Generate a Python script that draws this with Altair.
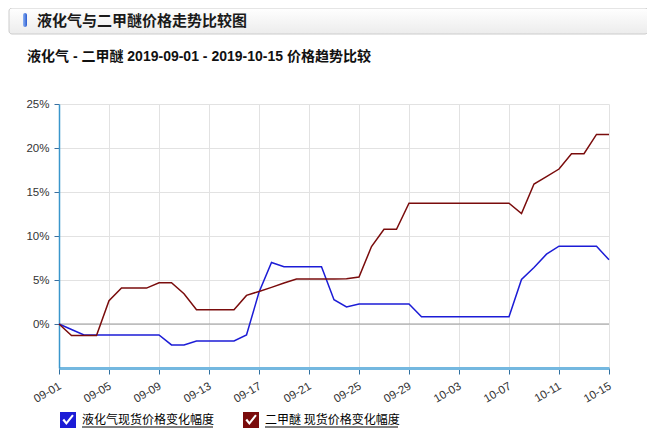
import altair as alt
import pandas as pd

# ---------------- data ----------------
dates = pd.date_range("2019-09-01", "2019-10-15").strftime("%Y-%m-%d").tolist()
series_names = ["液化气现货价格变化幅度", "二甲醚 现货价格变化幅度"]
lpg_pct = [0, -0.62, -1.25, -1.25, -1.25, -1.25, -1.25, -1.25, -1.25, -2.38,
           -2.38, -1.93, -1.93, -1.93, -1.93, -1.25, 3.6, 6.99, 6.5, 6.5,
           6.5, 6.5, 2.76, 1.93, 2.27, 2.27, 2.27, 2.27, 2.27, 0.83,
           0.83, 0.83, 0.83, 0.83, 0.83, 0.83, 0.83, 5.06, 6.43, 7.94,
           8.84, 8.84, 8.84, 8.84, 7.29]
dme_pct = [0, -1.32, -1.32, -1.32, 2.65, 4.08, 4.08, 4.08, 4.69, 4.69,
           3.44, 1.63, 1.63, 1.63, 1.63, 3.25, 3.7, 4.16, 4.65, 5.1,
           5.1, 5.1, 5.1, 5.14, 5.33, 8.8, 10.77, 10.77, 13.72, 13.72,
           13.72, 13.72, 13.72, 13.72, 13.72, 13.72, 13.72, 12.55, 15.91, 16.74,
           17.61, 19.35, 19.35, 21.54, 21.54]
tick_dates = ["2019-09-01", "2019-09-05", "2019-09-09", "2019-09-13", "2019-09-17",
              "2019-09-21", "2019-09-25", "2019-09-29", "2019-10-03", "2019-10-07",
              "2019-10-11", "2019-10-15"]
y_ticks = [0, 5, 10, 15, 20, 25]
y_domain = [-5, 25]
header_text = "液化气与二甲醚价格走势比较图"
title_text = "液化气 - 二甲醚 2019-09-01 - 2019-10-15 价格趋势比较"
colors = ["#1c1cd6", "#7a0c0c"]

df = pd.DataFrame({
    "date": dates * 2,
    "series": [series_names[0]] * len(dates) + [series_names[1]] * len(dates),
    "pct": lpg_pct + dme_pct,
})


def ms(d):
    return int(pd.Timestamp(d, tz="UTC").value // 10**6)


tick_vals = [ms(d) for d in tick_dates]
one = pd.DataFrame({"k": [0]})

LATIN = "Liberation Sans, Noto Sans CJK SC"
CJK = "Noto Sans CJK SC"

x_enc = alt.X(
    "date:T",
    scale=alt.Scale(type="utc", domain=[ms(dates[0]), ms(dates[-1])], nice=False),
    axis=alt.Axis(
        values=tick_vals, format="%m-%d", title=None,
        grid=True, gridColor="#e2e2e2", gridWidth=1,
        domainColor="#74b8e0", domainWidth=3,
        tickColor="#2f6f9f", tickSize=6, tickWidth=1,
        labelAngle=330, labelAlign="right", labelBaseline="top",
        labelPadding=6, labelOffset=-2,
        labelFont=LATIN, labelFontSize=11.5, labelColor="#333333",
        labelOverlap=False, labelFlush=False,
    ),
)
y_enc = alt.Y(
    "pct:Q",
    scale=alt.Scale(domain=y_domain, nice=False, zero=False),
    axis=alt.Axis(
        values=y_ticks, labelExpr="datum.value + '%'", title=None,
        grid=True, gridColor="#e2e2e2", gridWidth=1,
        domainColor="#3a96cc", domainWidth=1.5,
        tickColor="#3a6f9f", tickSize=5, labelPadding=5,
        labelFont=LATIN, labelFontSize=11.5, labelColor="#333333",
    ),
)

check_path = ("M-1,-1H1V1H-1Z "
              "M-0.7,0.02L-0.2,0.62L0.72,-0.52L0.52,-0.7L-0.2,0.22L-0.48,-0.16Z")

header_rect = alt.Chart(one).mark_rect(
    fill=alt.Gradient(gradient="linear", x1=0, x2=0, y1=0, y2=1,
                      stops=[alt.GradientStop(color="#ffffff", offset=0),
                             alt.GradientStop(color="#ececec", offset=1)]),
    stroke="#cccccc", strokeWidth=1, cornerRadius=3,
).encode(x=alt.value(-50), x2=alt.value(589), y=alt.value(-96), y2=alt.value(-70))

pill = alt.Chart(one).mark_rect(
    fill=alt.Gradient(gradient="linear", x1=0, x2=1, y1=0, y2=0,
                      stops=[alt.GradientStop(color="#8fb4f4", offset=0),
                             alt.GradientStop(color="#2a5bd0", offset=1)]),
    cornerRadius=2,
).encode(x=alt.value(-36), x2=alt.value(-32), y=alt.value(-91), y2=alt.value(-77))

header_txt = alt.Chart(one).mark_text(
    text=header_text, align="left", baseline="middle",
    font=CJK, fontSize=15, fontWeight="bold", color="#1a1a1a",
).encode(x=alt.value(-22), y=alt.value(-83))

title_txt = alt.Chart(one).mark_text(
    text=title_text, align="left", baseline="middle",
    font=LATIN, fontSize=14, fontWeight="bold", color="#111111",
).encode(x=alt.value(-32), y=alt.value(-47))

zero_rule = alt.Chart(one).mark_rule(color="#9a9a9a", strokeWidth=1).encode(y=alt.datum(0))

lines = alt.Chart(df).mark_line(strokeWidth=1.5).encode(
    x=x_enc, y=y_enc,
    stroke=alt.Stroke("series:N", scale=alt.Scale(domain=series_names, range=colors),
                      legend=None),
)

legend_pts = alt.Chart(df).mark_point(filled=True, opacity=0).encode(
    x=x_enc, y=y_enc,
    color=alt.Color("series:N", scale=alt.Scale(domain=series_names, range=colors),
                    legend=alt.Legend(
                        title=None, orient="none", legendX=1, legendY=308,
                        direction="horizontal",
                        symbolType=check_path, symbolSize=256, symbolStrokeWidth=0,
                        symbolOpacity=1,
                        labelFont=CJK, labelFontSize=12, labelColor="#000000",
                        labelOffset=6, columnPadding=28, padding=0, labelLimit=300,
                    )),
)

underline1 = alt.Chart(one).mark_rule(color="#000000", strokeWidth=1).encode(
    x=alt.value(23), x2=alt.value(154), y=alt.value(323))
underline2 = alt.Chart(one).mark_rule(color="#000000", strokeWidth=1).encode(
    x=alt.value(206), x2=alt.value(339), y=alt.value(323))

chart = alt.layer(
    header_rect, pill, header_txt, title_txt, zero_rule, lines, legend_pts,
    underline1, underline2,
).resolve_scale(color="independent", stroke="independent").properties(
    width=550, height=264,
    padding={"left": 51, "top": 96, "right": 38, "bottom": 65},
    autosize=alt.AutoSizeParams(type="none"),
).configure_view(stroke=None)

chart.save("out.html", embed_options={"renderer": "svg", "actions": False})
